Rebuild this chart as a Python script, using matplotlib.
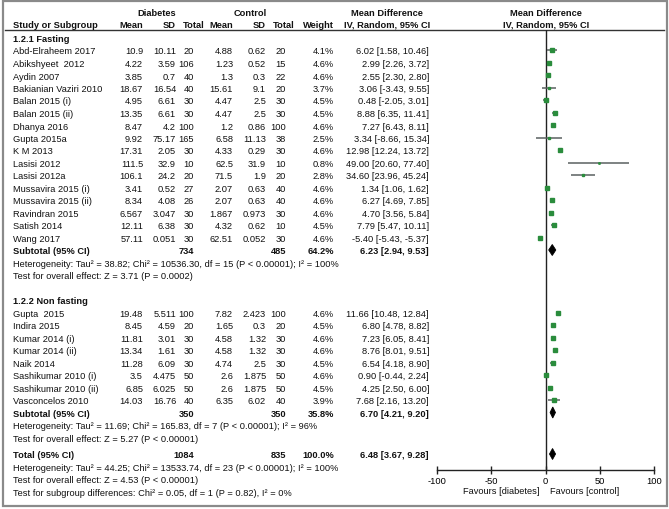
import matplotlib
matplotlib.use("Agg")
import matplotlib.pyplot as plt
from matplotlib.patches import Polygon, Rectangle

plt.rcParams['font.family'] = ['Liberation Sans', 'DejaVu Sans']

# ---------------- data ----------------
fast_names = ["Abd-Elraheem 2017", "Abikshyeet  2012", "Aydin 2007", "Bakianian Vaziri 2010",
              "Balan 2015 (i)", "Balan 2015 (ii)", "Dhanya 2016", "Gupta 2015a", "K M 2013",
              "Lasisi 2012", "Lasisi 2012a", "Mussavira 2015 (i)", "Mussavira 2015 (ii)",
              "Ravindran 2015", "Satish 2014", "Wang 2017"]
fast_d_mean = [10.9, 4.22, 3.85, 18.67, 4.95, 13.35, 8.47, 9.92, 17.31, 111.5, 106.1, 3.41, 8.34, 6.567, 12.11, 57.11]
fast_d_sd = [10.11, 3.59, 0.7, 16.54, 6.61, 6.61, 4.2, 75.17, 2.05, 32.9, 24.2, 0.52, 4.08, 3.047, 6.38, 0.051]
fast_d_n = [20, 106, 40, 40, 30, 30, 100, 165, 30, 10, 20, 27, 26, 30, 30, 30]
fast_c_mean = [4.88, 1.23, 1.3, 15.61, 4.47, 4.47, 1.2, 6.58, 4.33, 62.5, 71.5, 2.07, 2.07, 1.867, 4.32, 62.51]
fast_c_sd = [0.62, 0.52, 0.3, 9.1, 2.5, 2.5, 0.86, 11.13, 0.29, 31.9, 1.9, 0.63, 0.63, 0.973, 0.62, 0.052]
fast_c_n = [20, 15, 22, 20, 30, 30, 100, 38, 30, 10, 20, 40, 40, 30, 10, 30]
fast_weight = [4.1, 4.6, 4.6, 3.7, 4.5, 4.5, 4.6, 2.5, 4.6, 0.8, 2.8, 4.6, 4.6, 4.6, 4.5, 4.6]
fast_md = [6.02, 2.99, 2.55, 3.06, 0.48, 8.88, 7.27, 3.34, 12.98, 49.00, 34.60, 1.34, 6.27, 4.70, 7.79, -5.40]
fast_lo = [1.58, 2.26, 2.30, -3.43, -2.05, 6.35, 6.43, -8.66, 12.24, 20.60, 23.96, 1.06, 4.69, 3.56, 5.47, -5.43]
fast_hi = [10.46, 3.72, 2.80, 9.55, 3.01, 11.41, 8.11, 15.34, 13.72, 77.40, 45.24, 1.62, 7.85, 5.84, 10.11, -5.37]
fast_sub = dict(d_n=734, c_n=485, weight=64.2, md=6.23, lo=2.94, hi=9.53)
fast_het = "Heterogeneity: Tau\u00b2 = 38.82; Chi\u00b2 = 10536.30, df = 15 (P < 0.00001); I\u00b2 = 100%"
fast_test = "Test for overall effect: Z = 3.71 (P = 0.0002)"

nf_names = ["Gupta  2015", "Indira 2015", "Kumar 2014 (i)", "Kumar 2014 (ii)", "Naik 2014",
            "Sashikumar 2010 (i)", "Sashikumar 2010 (ii)", "Vasconcelos 2010"]
nf_d_mean = [19.48, 8.45, 11.81, 13.34, 11.28, 3.5, 6.85, 14.03]
nf_d_sd = [5.511, 4.59, 3.01, 1.61, 6.09, 4.475, 6.025, 16.76]
nf_d_n = [100, 20, 30, 30, 30, 50, 50, 40]
nf_c_mean = [7.82, 1.65, 4.58, 4.58, 4.74, 2.6, 2.6, 6.35]
nf_c_sd = [2.423, 0.3, 1.32, 1.32, 2.5, 1.875, 1.875, 6.02]
nf_c_n = [100, 20, 30, 30, 30, 50, 50, 40]
nf_weight = [4.6, 4.5, 4.6, 4.6, 4.5, 4.6, 4.5, 3.9]
nf_md = [11.66, 6.80, 7.23, 8.76, 6.54, 0.90, 4.25, 7.68]
nf_lo = [10.48, 4.78, 6.05, 8.01, 4.18, -0.44, 2.50, 2.16]
nf_hi = [12.84, 8.82, 8.41, 9.51, 8.90, 2.24, 6.00, 13.20]
nf_sub = dict(d_n=350, c_n=350, weight=35.8, md=6.70, lo=4.21, hi=9.20)
nf_het = "Heterogeneity: Tau\u00b2 = 11.69; Chi\u00b2 = 165.83, df = 7 (P < 0.00001); I\u00b2 = 96%"
nf_test = "Test for overall effect: Z = 5.27 (P < 0.00001)"

total = dict(d_n=1084, c_n=835, weight=100.0, md=6.48, lo=3.67, hi=9.28)
total_het = "Heterogeneity: Tau\u00b2 = 44.25; Chi\u00b2 = 13533.74, df = 23 (P < 0.00001); I\u00b2 = 100%"
total_test = "Test for overall effect: Z = 4.53 (P < 0.00001)"
subgroup_test = "Test for subgroup differences: Chi\u00b2 = 0.05, df = 1 (P = 0.82), I\u00b2 = 0%"

xticks = [-100, -50, 0, 50, 100]
fav_left = "Favours [diabetes]"
fav_right = "Favours [control]"

# ---------------- layout ----------------
W, H = 669, 510
fig = plt.figure(figsize=(W / 100, H / 100), dpi=100)
bg = fig.add_axes([0, 0, 1, 1])
bg.set_xlim(0, W)
bg.set_ylim(H, 0)
bg.axis('off')

FS = 6.7
X_NAME = 13
X_DM, X_DSD, X_DN = 143, 176, 194
X_CM, X_CSD, X_CN = 233, 266, 286
X_W = 334
X_CI = 429
AX_L, AX_R = 437, 654
AX_TOP, AX_BOT = 30.5, 471
STEP = 12.5

ax = fig.add_axes([AX_L / W, (H - AX_BOT) / H, (AX_R - AX_L) / W, (AX_BOT - AX_TOP) / H])
ax.set_xlim(xticks[0], xticks[-1])
ax.set_ylim(AX_BOT, AX_TOP)
ax.patch.set_alpha(0)
for s in ['top', 'right', 'left']:
    ax.spines[s].set_visible(False)
ax.spines['bottom'].set_linewidth(1.0)
ax.spines['bottom'].set_color('#222222')
ax.set_yticks([])
ax.set_xticks(xticks)
ax.set_xticklabels([str(t) for t in xticks], fontsize=FS)
ax.tick_params(axis='x', direction='inout', length=6, width=1.0, pad=1, color='#222222')
ax.axvline(0, color='#222222', lw=1.0)


def txt(x, y, s, ha='left', bold=False):
    bg.text(x, y, s, ha=ha, va='center_baseline', fontsize=FS,
            fontweight='bold' if bold else 'normal', color='#111111')


def fmt(v):
    return f"{v:g}"


def ci_str(md, lo, hi):
    return f"{md:.2f} [{lo:.2f}, {hi:.2f}]"


# border & header
bg.add_patch(Rectangle((2.5, 1.5), W - 4.5, H - 4.5, fill=False, ec='#8a8a8a', lw=1.6))
bg.plot([5, 664], [AX_TOP, AX_TOP], color='#333333', lw=1.0)
HY1, HY2 = 12.5, 24
txt(157, HY1, "Diabetes", ha='center', bold=True)
txt(250, HY1, "Control", ha='center', bold=True)
txt(X_NAME, HY2, "Study or Subgroup", bold=True)
for x, s in [(X_DM, "Mean"), (X_DSD, "SD"), (205, "Total"), (X_CM, "Mean"),
             (X_CSD, "SD"), (295, "Total"), (X_W, "Weight")]:
    txt(x, HY2, s, ha='right', bold=True)
txt(387, HY1, "Mean Difference", ha='center', bold=True)
txt(387, HY2, "IV, Random, 95% CI", ha='center', bold=True)
txt(546, HY1, "Mean Difference", ha='center', bold=True)
txt(546, HY2, "IV, Random, 95% CI", ha='center', bold=True)


def study_rows(y, names, dm, dsd, dn, cm, csd, cn, w, md, lo, hi):
    for i in range(len(names)):
        txt(X_NAME, y, names[i])
        txt(X_DM, y, fmt(dm[i]), ha='right')
        txt(X_DSD, y, fmt(dsd[i]), ha='right')
        txt(X_DN, y, str(dn[i]), ha='right')
        txt(X_CM, y, fmt(cm[i]), ha='right')
        txt(X_CSD, y, fmt(csd[i]), ha='right')
        txt(X_CN, y, str(cn[i]), ha='right')
        txt(X_W, y, f"{w[i]:.1f}%", ha='right')
        txt(X_CI, y, ci_str(md[i], lo[i], hi[i]), ha='right')
        ax.plot([lo[i], hi[i]], [y, y], color='#5a6060', lw=1.1, solid_capstyle='butt', zorder=2)
        ax.plot([md[i]], [y], marker='s', ms=1.1 * w[i] ** 0.5, color='#2a8c3c',
                mec='#2a8c3c', zorder=3)
        y += STEP
    return y


def summary_row(y, label, d):
    txt(X_NAME, y, label, bold=True)
    txt(X_DN, y, str(d['d_n']), ha='right', bold=True)
    txt(X_CN, y, str(d['c_n']), ha='right', bold=True)
    txt(X_W, y, f"{d['weight']:.1f}%", ha='right', bold=True)
    txt(X_CI, y, ci_str(d['md'], d['lo'], d['hi']), ha='right', bold=True)
    ax.add_patch(Polygon([(d['lo'], y), (d['md'], y - 5.5), (d['hi'], y), (d['md'], y + 5.5)],
                         closed=True, fc='black', ec='black', lw=0.6, zorder=3))


y = 38.5
txt(X_NAME, y, "1.2.1 Fasting", bold=True)
y = study_rows(y + STEP, fast_names, fast_d_mean, fast_d_sd, fast_d_n, fast_c_mean, fast_c_sd,
               fast_c_n, fast_weight, fast_md, fast_lo, fast_hi)
summary_row(y, "Subtotal (95% CI)", fast_sub)
y += STEP
txt(X_NAME, y, fast_het)
y += STEP
txt(X_NAME, y, fast_test)
y += 2 * STEP
txt(X_NAME, y, "1.2.2 Non fasting", bold=True)
y = study_rows(y + STEP, nf_names, nf_d_mean, nf_d_sd, nf_d_n, nf_c_mean, nf_c_sd,
               nf_c_n, nf_weight, nf_md, nf_lo, nf_hi)
summary_row(y, "Subtotal (95% CI)", nf_sub)
y += STEP
txt(X_NAME, y, nf_het)
y += STEP
txt(X_NAME, y, nf_test)
y += STEP + 4
summary_row(y, "Total (95% CI)", total)
y += STEP
txt(X_NAME, y, total_het)
y += STEP
txt(X_NAME, y, total_test)
y += STEP
txt(X_NAME, y, subgroup_test)

# favours labels
txt(AX_L + (AX_R - AX_L) / 2 - 6, 491, fav_left, ha='right')
txt(AX_L + (AX_R - AX_L) / 2 + 4, 491, fav_right, ha='left')

fig.savefig("out.png", dpi=100)
